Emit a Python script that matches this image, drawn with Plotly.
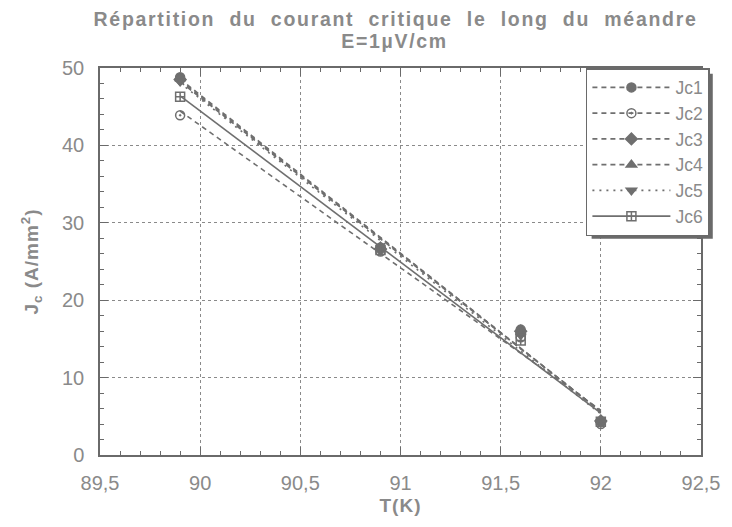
import numpy as np
import plotly.graph_objects as go

# Temperatures (K) at which Jc was measured
temperatures = [89.9, 90.9, 91.6, 92.0]

# Critical current density Jc (A/mm²) for each segment of the meander
jc1 = [48.8, 26.8, 16.2, 4.3]
jc2 = [43.9, 26.3, 15.2, 4.0]
jc3 = [48.5, 26.6, 16.0, 4.4]
jc4 = [48.6, 26.9, 15.8, 4.5]
jc5 = [48.3, 26.5, 15.5, 4.2]
jc6 = [46.3, 26.5, 14.8, 4.3]

series_names = ["Jc1", "Jc2", "Jc3", "Jc4", "Jc5", "Jc6"]
series_values = [jc1, jc2, jc3, jc4, jc5, jc6]

symbols = ["circle", "circle-open-dot", "diamond", "triangle-up", "triangle-down", "square-cross-open"]
dashes = ["5px,4px", "5px,4px", "5px,4px", "5px,4px", "2px,5px", "solid"]

GREY = "#6f6f6f"
TEXT = "#8a8a8a"
FONT = "Liberation Sans, Arial, sans-serif"
SP = "\u00a0\u00a0"

fig = go.Figure()
x_arr = np.array(temperatures)
x_fit = np.array([min(temperatures), max(temperatures)])

for name, vals, sym, dash in zip(series_names, series_values, symbols, dashes):
    # least-squares straight line through each series
    slope, intercept = np.polyfit(x_arr, np.array(vals), 1)
    fig.add_trace(go.Scatter(
        x=x_fit, y=slope * x_fit + intercept, mode="lines",
        line=dict(color=GREY, width=1.6, dash=dash),
        showlegend=False, hoverinfo="skip"))
    fig.add_trace(go.Scatter(
        x=temperatures, y=vals, mode="markers",
        marker=dict(symbol=sym, size=9, color=GREY,
                    line=dict(color=GREY, width=1.5)),
        showlegend=False, name=name))
    # legend entry: line with marker
    fig.add_trace(go.Scatter(
        x=[None], y=[None], mode="lines+markers", name=name,
        line=dict(color=GREY, width=1.6, dash=dash),
        marker=dict(symbol=sym, size=9, color=GREY,
                    line=dict(color=GREY, width=1.5))))

axis_common = dict(
    showline=True, linecolor="#6a6a6a", linewidth=1.5, mirror="ticks",
    ticks="inside", ticklen=8, tickwidth=1.2, tickcolor="#6a6a6a",
    showgrid=True, gridcolor="#8a8a8a", gridwidth=1.2, griddash="dot",
    zeroline=False,
    tickfont=dict(family=FONT, size=20, color=TEXT),
    minor=dict(ticks="inside", ticklen=4, tickwidth=1, tickcolor="#6a6a6a", showgrid=False),
)

title_font = dict(family=FONT, size=19.5, color=TEXT)
axis_title_font = dict(family=FONT, size=19, color=TEXT)
line1 = SP.join(["Répartition", "du", "courant", "critique", "le", "long", "du", "méandre"])

fig.update_layout(
    width=732, height=527,
    margin=dict(l=100, r=21, t=68, b=72),
    paper_bgcolor="white", plot_bgcolor="white",
    separators=", ",
    font=dict(family=FONT, color=TEXT),
    annotations=[
        dict(text="<b>" + line1 + "</b>", xref="paper", yref="paper",
             x=0.491, y=1.127, xanchor="center", yanchor="middle",
             showarrow=False, font=title_font),
        dict(text="<b>E=1µV/cm</b>", xref="paper", yref="paper",
             x=0.49, y=1.070, xanchor="center", yanchor="middle",
             showarrow=False, font=title_font),
    ],
    xaxis=dict(range=[89.5, 92.5], dtick=0.5, tick0=89.5, ticklabelstandoff=9,
               title=dict(text="<b>T(K)</b>", font=axis_title_font, standoff=6),
               **axis_common),
    yaxis=dict(range=[0, 50], dtick=10, tick0=0, ticklabelstandoff=10,
               title=dict(text="<b>J<sub>c</sub> (A/mm<sup>2</sup>)</b>", font=axis_title_font, standoff=18),
               **axis_common),
    legend=dict(x=0.8085, y=1.0, xanchor="left", yanchor="top",
                bgcolor="white", bordercolor="#6a6a6a", borderwidth=1.5,
                font=dict(family=FONT, size=17.5, color=TEXT),
                itemwidth=78, tracegroupgap=0),
    shapes=[dict(type="rect", xref="paper", yref="paper",
                 x0=0.818, x1=1.0196, y0=0.559, y1=0.985,
                 fillcolor="#6a6a6a", line=dict(width=0), layer="above")],
)
fig.update_xaxes(minor=dict(dtick=0.1))
fig.update_yaxes(minor=dict(dtick=2))

# widen the letter spacing of the title and axis labels
spacing_js = """
var gd = document.getElementById('{plot_id}');
function spread() {
  gd.querySelectorAll('.annotation-text').forEach(function(t){ t.style.letterSpacing = '1.7px'; });
  gd.querySelectorAll('.xtitle, .ytitle').forEach(function(t){ t.style.letterSpacing = '1px'; });
}
spread();
gd.on('plotly_afterplot', spread);
"""

fig.write_html("out.html", post_script=spacing_js)
